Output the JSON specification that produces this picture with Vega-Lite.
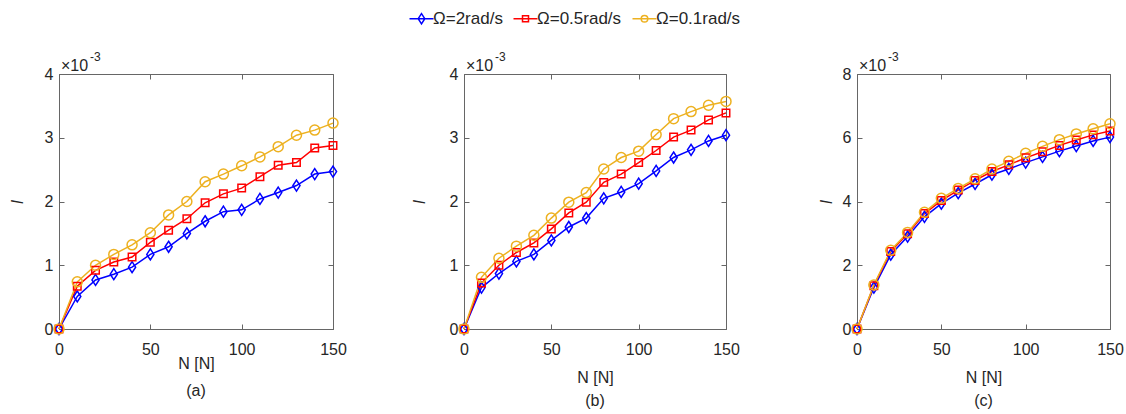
{
  "$schema": "https://vega.github.io/schema/vega-lite/v6.json",
  "padding": {"left": 8, "top": 10, "right": 5, "bottom": 5},
  "background": "white",
  "data": {"values": [
    {"p":"a","s":"Ω=2rad/s","N":0,"I":0},{"p":"a","s":"Ω=2rad/s","N":10,"I":0.51},{"p":"a","s":"Ω=2rad/s","N":20,"I":0.77},{"p":"a","s":"Ω=2rad/s","N":30,"I":0.86},{"p":"a","s":"Ω=2rad/s","N":40,"I":0.97},{"p":"a","s":"Ω=2rad/s","N":50,"I":1.17},{"p":"a","s":"Ω=2rad/s","N":60,"I":1.29},{"p":"a","s":"Ω=2rad/s","N":70,"I":1.50},{"p":"a","s":"Ω=2rad/s","N":80,"I":1.69},{"p":"a","s":"Ω=2rad/s","N":90,"I":1.84},{"p":"a","s":"Ω=2rad/s","N":100,"I":1.87},{"p":"a","s":"Ω=2rad/s","N":110,"I":2.04},{"p":"a","s":"Ω=2rad/s","N":120,"I":2.14},{"p":"a","s":"Ω=2rad/s","N":130,"I":2.25},{"p":"a","s":"Ω=2rad/s","N":140,"I":2.43},{"p":"a","s":"Ω=2rad/s","N":150,"I":2.47},
    {"p":"a","s":"Ω=0.5rad/s","N":0,"I":0},{"p":"a","s":"Ω=0.5rad/s","N":10,"I":0.67},{"p":"a","s":"Ω=0.5rad/s","N":20,"I":0.92},{"p":"a","s":"Ω=0.5rad/s","N":30,"I":1.05},{"p":"a","s":"Ω=0.5rad/s","N":40,"I":1.13},{"p":"a","s":"Ω=0.5rad/s","N":50,"I":1.36},{"p":"a","s":"Ω=0.5rad/s","N":60,"I":1.55},{"p":"a","s":"Ω=0.5rad/s","N":70,"I":1.73},{"p":"a","s":"Ω=0.5rad/s","N":80,"I":1.98},{"p":"a","s":"Ω=0.5rad/s","N":90,"I":2.12},{"p":"a","s":"Ω=0.5rad/s","N":100,"I":2.21},{"p":"a","s":"Ω=0.5rad/s","N":110,"I":2.39},{"p":"a","s":"Ω=0.5rad/s","N":120,"I":2.57},{"p":"a","s":"Ω=0.5rad/s","N":130,"I":2.61},{"p":"a","s":"Ω=0.5rad/s","N":140,"I":2.84},{"p":"a","s":"Ω=0.5rad/s","N":150,"I":2.88},
    {"p":"a","s":"Ω=0.1rad/s","N":0,"I":0},{"p":"a","s":"Ω=0.1rad/s","N":10,"I":0.74},{"p":"a","s":"Ω=0.1rad/s","N":20,"I":1.00},{"p":"a","s":"Ω=0.1rad/s","N":30,"I":1.17},{"p":"a","s":"Ω=0.1rad/s","N":40,"I":1.32},{"p":"a","s":"Ω=0.1rad/s","N":50,"I":1.51},{"p":"a","s":"Ω=0.1rad/s","N":60,"I":1.79},{"p":"a","s":"Ω=0.1rad/s","N":70,"I":2.00},{"p":"a","s":"Ω=0.1rad/s","N":80,"I":2.31},{"p":"a","s":"Ω=0.1rad/s","N":90,"I":2.43},{"p":"a","s":"Ω=0.1rad/s","N":100,"I":2.56},{"p":"a","s":"Ω=0.1rad/s","N":110,"I":2.70},{"p":"a","s":"Ω=0.1rad/s","N":120,"I":2.86},{"p":"a","s":"Ω=0.1rad/s","N":130,"I":3.04},{"p":"a","s":"Ω=0.1rad/s","N":140,"I":3.12},{"p":"a","s":"Ω=0.1rad/s","N":150,"I":3.23},
    {"p":"b","s":"Ω=2rad/s","N":0,"I":0},{"p":"b","s":"Ω=2rad/s","N":10,"I":0.65},{"p":"b","s":"Ω=2rad/s","N":20,"I":0.87},{"p":"b","s":"Ω=2rad/s","N":30,"I":1.06},{"p":"b","s":"Ω=2rad/s","N":40,"I":1.17},{"p":"b","s":"Ω=2rad/s","N":50,"I":1.39},{"p":"b","s":"Ω=2rad/s","N":60,"I":1.60},{"p":"b","s":"Ω=2rad/s","N":70,"I":1.74},{"p":"b","s":"Ω=2rad/s","N":80,"I":2.05},{"p":"b","s":"Ω=2rad/s","N":90,"I":2.15},{"p":"b","s":"Ω=2rad/s","N":100,"I":2.28},{"p":"b","s":"Ω=2rad/s","N":110,"I":2.48},{"p":"b","s":"Ω=2rad/s","N":120,"I":2.69},{"p":"b","s":"Ω=2rad/s","N":130,"I":2.81},{"p":"b","s":"Ω=2rad/s","N":140,"I":2.95},{"p":"b","s":"Ω=2rad/s","N":150,"I":3.04},
    {"p":"b","s":"Ω=0.5rad/s","N":0,"I":0},{"p":"b","s":"Ω=0.5rad/s","N":10,"I":0.72},{"p":"b","s":"Ω=0.5rad/s","N":20,"I":1.00},{"p":"b","s":"Ω=0.5rad/s","N":30,"I":1.20},{"p":"b","s":"Ω=0.5rad/s","N":40,"I":1.35},{"p":"b","s":"Ω=0.5rad/s","N":50,"I":1.57},{"p":"b","s":"Ω=0.5rad/s","N":60,"I":1.82},{"p":"b","s":"Ω=0.5rad/s","N":70,"I":1.99},{"p":"b","s":"Ω=0.5rad/s","N":80,"I":2.30},{"p":"b","s":"Ω=0.5rad/s","N":90,"I":2.43},{"p":"b","s":"Ω=0.5rad/s","N":100,"I":2.61},{"p":"b","s":"Ω=0.5rad/s","N":110,"I":2.80},{"p":"b","s":"Ω=0.5rad/s","N":120,"I":3.01},{"p":"b","s":"Ω=0.5rad/s","N":130,"I":3.12},{"p":"b","s":"Ω=0.5rad/s","N":140,"I":3.28},{"p":"b","s":"Ω=0.5rad/s","N":150,"I":3.39},
    {"p":"b","s":"Ω=0.1rad/s","N":0,"I":0},{"p":"b","s":"Ω=0.1rad/s","N":10,"I":0.81},{"p":"b","s":"Ω=0.1rad/s","N":20,"I":1.11},{"p":"b","s":"Ω=0.1rad/s","N":30,"I":1.30},{"p":"b","s":"Ω=0.1rad/s","N":40,"I":1.47},{"p":"b","s":"Ω=0.1rad/s","N":50,"I":1.74},{"p":"b","s":"Ω=0.1rad/s","N":60,"I":1.99},{"p":"b","s":"Ω=0.1rad/s","N":70,"I":2.14},{"p":"b","s":"Ω=0.1rad/s","N":80,"I":2.51},{"p":"b","s":"Ω=0.1rad/s","N":90,"I":2.69},{"p":"b","s":"Ω=0.1rad/s","N":100,"I":2.79},{"p":"b","s":"Ω=0.1rad/s","N":110,"I":3.05},{"p":"b","s":"Ω=0.1rad/s","N":120,"I":3.30},{"p":"b","s":"Ω=0.1rad/s","N":130,"I":3.41},{"p":"b","s":"Ω=0.1rad/s","N":140,"I":3.51},{"p":"b","s":"Ω=0.1rad/s","N":150,"I":3.57},
    {"p":"c","s":"Ω=2rad/s","N":0,"I":0},{"p":"c","s":"Ω=2rad/s","N":10,"I":1.30},{"p":"c","s":"Ω=2rad/s","N":20,"I":2.33},{"p":"c","s":"Ω=2rad/s","N":30,"I":2.90},{"p":"c","s":"Ω=2rad/s","N":40,"I":3.52},{"p":"c","s":"Ω=2rad/s","N":50,"I":3.93},{"p":"c","s":"Ω=2rad/s","N":60,"I":4.26},{"p":"c","s":"Ω=2rad/s","N":70,"I":4.55},{"p":"c","s":"Ω=2rad/s","N":80,"I":4.84},{"p":"c","s":"Ω=2rad/s","N":90,"I":5.02},{"p":"c","s":"Ω=2rad/s","N":100,"I":5.22},{"p":"c","s":"Ω=2rad/s","N":110,"I":5.40},{"p":"c","s":"Ω=2rad/s","N":120,"I":5.58},{"p":"c","s":"Ω=2rad/s","N":130,"I":5.74},{"p":"c","s":"Ω=2rad/s","N":140,"I":5.90},{"p":"c","s":"Ω=2rad/s","N":150,"I":6.02},
    {"p":"c","s":"Ω=0.5rad/s","N":0,"I":0},{"p":"c","s":"Ω=0.5rad/s","N":10,"I":1.36},{"p":"c","s":"Ω=0.5rad/s","N":20,"I":2.43},{"p":"c","s":"Ω=0.5rad/s","N":30,"I":2.99},{"p":"c","s":"Ω=0.5rad/s","N":40,"I":3.62},{"p":"c","s":"Ω=0.5rad/s","N":50,"I":4.03},{"p":"c","s":"Ω=0.5rad/s","N":60,"I":4.36},{"p":"c","s":"Ω=0.5rad/s","N":70,"I":4.66},{"p":"c","s":"Ω=0.5rad/s","N":80,"I":4.94},{"p":"c","s":"Ω=0.5rad/s","N":90,"I":5.15},{"p":"c","s":"Ω=0.5rad/s","N":100,"I":5.37},{"p":"c","s":"Ω=0.5rad/s","N":110,"I":5.56},{"p":"c","s":"Ω=0.5rad/s","N":120,"I":5.76},{"p":"c","s":"Ω=0.5rad/s","N":130,"I":5.93},{"p":"c","s":"Ω=0.5rad/s","N":140,"I":6.09},{"p":"c","s":"Ω=0.5rad/s","N":150,"I":6.21},
    {"p":"c","s":"Ω=0.1rad/s","N":0,"I":0},{"p":"c","s":"Ω=0.1rad/s","N":10,"I":1.38},{"p":"c","s":"Ω=0.1rad/s","N":20,"I":2.47},{"p":"c","s":"Ω=0.1rad/s","N":30,"I":3.03},{"p":"c","s":"Ω=0.1rad/s","N":40,"I":3.66},{"p":"c","s":"Ω=0.1rad/s","N":50,"I":4.10},{"p":"c","s":"Ω=0.1rad/s","N":60,"I":4.41},{"p":"c","s":"Ω=0.1rad/s","N":70,"I":4.71},{"p":"c","s":"Ω=0.1rad/s","N":80,"I":5.02},{"p":"c","s":"Ω=0.1rad/s","N":90,"I":5.26},{"p":"c","s":"Ω=0.1rad/s","N":100,"I":5.51},{"p":"c","s":"Ω=0.1rad/s","N":110,"I":5.73},{"p":"c","s":"Ω=0.1rad/s","N":120,"I":5.94},{"p":"c","s":"Ω=0.1rad/s","N":130,"I":6.12},{"p":"c","s":"Ω=0.1rad/s","N":140,"I":6.28},{"p":"c","s":"Ω=0.1rad/s","N":150,"I":6.44}
  ]},
  "config": {
    "font": "Liberation Sans",
    "view": {"stroke": "#666666", "strokeWidth": 1},
    "axis": {
      "grid": false,
      "labelFont": "Liberation Sans",
      "labelFontSize": 16,
      "labelColor": "#262626",
      "titleFont": "Liberation Sans",
      "titleFontSize": 16,
      "titleFontWeight": "normal",
      "titleColor": "#262626",
      "domainColor": "#666666",
      "tickColor": "#666666",
      "tickSize": -5,
      "format": "d",
      "labelFlush": false,
      "labelOverlap": false
    },
    "title": {"font": "Liberation Sans", "fontSize": 16, "fontWeight": "normal", "color": "#262626"},
    "legend": {"labelFont": "Liberation Sans", "labelFontSize": 17, "labelColor": "#262626"}
  },
  "spacing": 131,
  "bounds": "flush",
  "hconcat": [
    {
      "width": 274, "height": 255,
      "transform": [{"filter": "datum.p == 'a'"}],
      "title": {"text": "(a)", "orient": "bottom", "anchor": "middle", "offset": 12},
      "resolve": {"axis": {"x": "independent", "y": "independent"}},
      "layer": [
        {"layer": [
          {"mark": {"type": "line", "strokeWidth": 1.5},
           "encoding": {
             "x": {"field": "N", "type": "quantitative", "scale": {"domain": [0, 150], "nice": false}, "axis": {"values": [0, 50, 100, 150], "title": "N [N]", "labelPadding": 17, "titlePadding": -2}},
             "y": {"field": "I", "type": "quantitative", "scale": {"domain": [0, 4], "nice": false}, "axis": {"values": [0, 1, 2, 3, 4], "title": "I", "titleFontStyle": "italic", "labelPadding": 11, "titlePadding": 19}},
             "color": {"field": "s", "type": "nominal", "scale": {"domain": ["Ω=2rad/s", "Ω=0.5rad/s", "Ω=0.1rad/s"], "range": ["#0000FF", "#FF0000", "#EDB120"]},
               "legend": {"title": null, "orient": "none", "legendX": 354, "legendY": -64, "direction": "horizontal", "symbolSize": 144, "symbolStrokeWidth": 1.5, "columnPadding": 7, "labelOffset": 3, "symbolFillColor": "transparent",
                 "encode": {"symbols": {"update": {"shape": {"signal": "datum.value == 'Ω=2rad/s' ? 'M-2,0L2,0M0,-0.85L0.55,0L0,0.85L-0.55,0Z' : datum.value == 'Ω=0.5rad/s' ? 'M-2,0L2,0M-0.5,-0.5L0.5,-0.5L0.5,0.5L-0.5,0.5Z' : 'M-2,0L2,0M0.55,0A0.55,0.55,0,1,1,-0.55,0A0.55,0.55,0,1,1,0.55,0'"}}}}}}
           }},
          {"transform": [{"filter": "datum.s == 'Ω=2rad/s'"}],
           "mark": {"type": "point", "filled": false, "strokeWidth": 1.5, "opacity": 1, "shape": "M0,-1L0.65,0L0,1L-0.65,0Z", "size": 121, "color": "#0000FF"},
           "encoding": {"x": {"field": "N", "type": "quantitative"}, "y": {"field": "I", "type": "quantitative"}}},
          {"transform": [{"filter": "datum.s == 'Ω=0.5rad/s'"}],
           "mark": {"type": "point", "filled": false, "strokeWidth": 1.5, "opacity": 1, "shape": "square", "size": 56, "color": "#FF0000"},
           "encoding": {"x": {"field": "N", "type": "quantitative"}, "y": {"field": "I", "type": "quantitative"}}},
          {"transform": [{"filter": "datum.s == 'Ω=0.1rad/s'"}],
           "mark": {"type": "point", "filled": false, "strokeWidth": 1.5, "opacity": 1, "shape": "circle", "size": 100, "color": "#EDB120"},
           "encoding": {"x": {"field": "N", "type": "quantitative"}, "y": {"field": "I", "type": "quantitative"}}},
          {"data": {"values": [{}]}, "mark": {"type": "text", "text": "×10", "align": "left", "baseline": "alphabetic", "dx": 2, "dy": -3, "fontSize": 16, "color": "#262626"},
           "encoding": {"x": {"datum": 0}, "y": {"datum": 4}}},
          {"data": {"values": [{}]}, "mark": {"type": "text", "text": "-3", "align": "left", "baseline": "alphabetic", "dx": 31, "dy": -13, "fontSize": 12, "color": "#262626"},
           "encoding": {"x": {"datum": 0}, "y": {"datum": 4}}}
        ]},
        {"data": {"values": [{}]}, "mark": {"type": "point", "opacity": 0},
         "encoding": {
           "x": {"datum": 0, "type": "quantitative", "axis": {"orient": "top", "values": [0, 50, 100, 150], "labels": false, "domain": false, "title": null}},
           "y": {"datum": 0, "type": "quantitative", "axis": {"orient": "right", "values": [0, 1, 2, 3, 4], "labels": false, "domain": false, "title": null}}
         }}
      ]
    },
    {
      "width": 262, "height": 255,
      "transform": [{"filter": "datum.p == 'b'"}],
      "title": {"text": "(b)", "orient": "bottom", "anchor": "middle", "offset": 8},
      "resolve": {"axis": {"x": "independent", "y": "independent"}},
      "layer": [
        {"layer": [
          {"mark": {"type": "line", "strokeWidth": 1.5},
           "encoding": {
             "x": {"field": "N", "type": "quantitative", "scale": {"domain": [0, 150], "nice": false}, "axis": {"values": [0, 50, 100, 150], "title": "N [N]", "labelPadding": 17, "titlePadding": 12}},
             "y": {"field": "I", "type": "quantitative", "scale": {"domain": [0, 4], "nice": false}, "axis": {"values": [0, 1, 2, 3, 4], "title": "I", "titleFontStyle": "italic", "labelPadding": 11, "titlePadding": 22}},
             "color": {"field": "s", "type": "nominal"}
           }},
          {"transform": [{"filter": "datum.s == 'Ω=2rad/s'"}],
           "mark": {"type": "point", "filled": false, "strokeWidth": 1.5, "opacity": 1, "shape": "M0,-1L0.65,0L0,1L-0.65,0Z", "size": 121, "color": "#0000FF"},
           "encoding": {"x": {"field": "N", "type": "quantitative"}, "y": {"field": "I", "type": "quantitative"}}},
          {"transform": [{"filter": "datum.s == 'Ω=0.5rad/s'"}],
           "mark": {"type": "point", "filled": false, "strokeWidth": 1.5, "opacity": 1, "shape": "square", "size": 56, "color": "#FF0000"},
           "encoding": {"x": {"field": "N", "type": "quantitative"}, "y": {"field": "I", "type": "quantitative"}}},
          {"transform": [{"filter": "datum.s == 'Ω=0.1rad/s'"}],
           "mark": {"type": "point", "filled": false, "strokeWidth": 1.5, "opacity": 1, "shape": "circle", "size": 100, "color": "#EDB120"},
           "encoding": {"x": {"field": "N", "type": "quantitative"}, "y": {"field": "I", "type": "quantitative"}}},
          {"data": {"values": [{}]}, "mark": {"type": "text", "text": "×10", "align": "left", "baseline": "alphabetic", "dx": 2, "dy": -3, "fontSize": 16, "color": "#262626"},
           "encoding": {"x": {"datum": 0}, "y": {"datum": 4}}},
          {"data": {"values": [{}]}, "mark": {"type": "text", "text": "-3", "align": "left", "baseline": "alphabetic", "dx": 31, "dy": -13, "fontSize": 12, "color": "#262626"},
           "encoding": {"x": {"datum": 0}, "y": {"datum": 4}}}
        ]},
        {"data": {"values": [{}]}, "mark": {"type": "point", "opacity": 0},
         "encoding": {
           "x": {"datum": 0, "type": "quantitative", "axis": {"orient": "top", "values": [0, 50, 100, 150], "labels": false, "domain": false, "title": null}},
           "y": {"datum": 0, "type": "quantitative", "axis": {"orient": "right", "values": [0, 1, 2, 3, 4], "labels": false, "domain": false, "title": null}}
         }}
      ]
    },
    {
      "width": 253, "height": 255,
      "transform": [{"filter": "datum.p == 'c'"}],
      "title": {"text": "(c)", "orient": "bottom", "anchor": "middle", "offset": 8},
      "resolve": {"axis": {"x": "independent", "y": "independent"}},
      "layer": [
        {"layer": [
          {"mark": {"type": "line", "strokeWidth": 1.5},
           "encoding": {
             "x": {"field": "N", "type": "quantitative", "scale": {"domain": [0, 150], "nice": false}, "axis": {"values": [0, 50, 100, 150], "title": "N [N]", "labelPadding": 17, "titlePadding": 12}},
             "y": {"field": "I", "type": "quantitative", "scale": {"domain": [0, 8], "nice": false}, "axis": {"values": [0, 2, 4, 6, 8], "title": "I", "titleFontStyle": "italic", "labelPadding": 11, "titlePadding": 8}},
             "color": {"field": "s", "type": "nominal"}
           }},
          {"transform": [{"filter": "datum.s == 'Ω=2rad/s'"}],
           "mark": {"type": "point", "filled": false, "strokeWidth": 1.5, "opacity": 1, "shape": "M0,-1L0.65,0L0,1L-0.65,0Z", "size": 121, "color": "#0000FF"},
           "encoding": {"x": {"field": "N", "type": "quantitative"}, "y": {"field": "I", "type": "quantitative"}}},
          {"transform": [{"filter": "datum.s == 'Ω=0.5rad/s'"}],
           "mark": {"type": "point", "filled": false, "strokeWidth": 1.5, "opacity": 1, "shape": "square", "size": 56, "color": "#FF0000"},
           "encoding": {"x": {"field": "N", "type": "quantitative"}, "y": {"field": "I", "type": "quantitative"}}},
          {"transform": [{"filter": "datum.s == 'Ω=0.1rad/s'"}],
           "mark": {"type": "point", "filled": false, "strokeWidth": 1.5, "opacity": 1, "shape": "circle", "size": 100, "color": "#EDB120"},
           "encoding": {"x": {"field": "N", "type": "quantitative"}, "y": {"field": "I", "type": "quantitative"}}},
          {"data": {"values": [{}]}, "mark": {"type": "text", "text": "×10", "align": "left", "baseline": "alphabetic", "dx": 2, "dy": -3, "fontSize": 16, "color": "#262626"},
           "encoding": {"x": {"datum": 0}, "y": {"datum": 8}}},
          {"data": {"values": [{}]}, "mark": {"type": "text", "text": "-3", "align": "left", "baseline": "alphabetic", "dx": 31, "dy": -13, "fontSize": 12, "color": "#262626"},
           "encoding": {"x": {"datum": 0}, "y": {"datum": 8}}}
        ]},
        {"data": {"values": [{}]}, "mark": {"type": "point", "opacity": 0},
         "encoding": {
           "x": {"datum": 0, "type": "quantitative", "axis": {"orient": "top", "values": [0, 50, 100, 150], "labels": false, "domain": false, "title": null}},
           "y": {"datum": 0, "type": "quantitative", "axis": {"orient": "right", "values": [0, 2, 4, 6, 8], "labels": false, "domain": false, "title": null}}
         }}
      ]
    }
  ],
  "resolve": {"scale": {"x": "independent", "y": "independent"}}
}
